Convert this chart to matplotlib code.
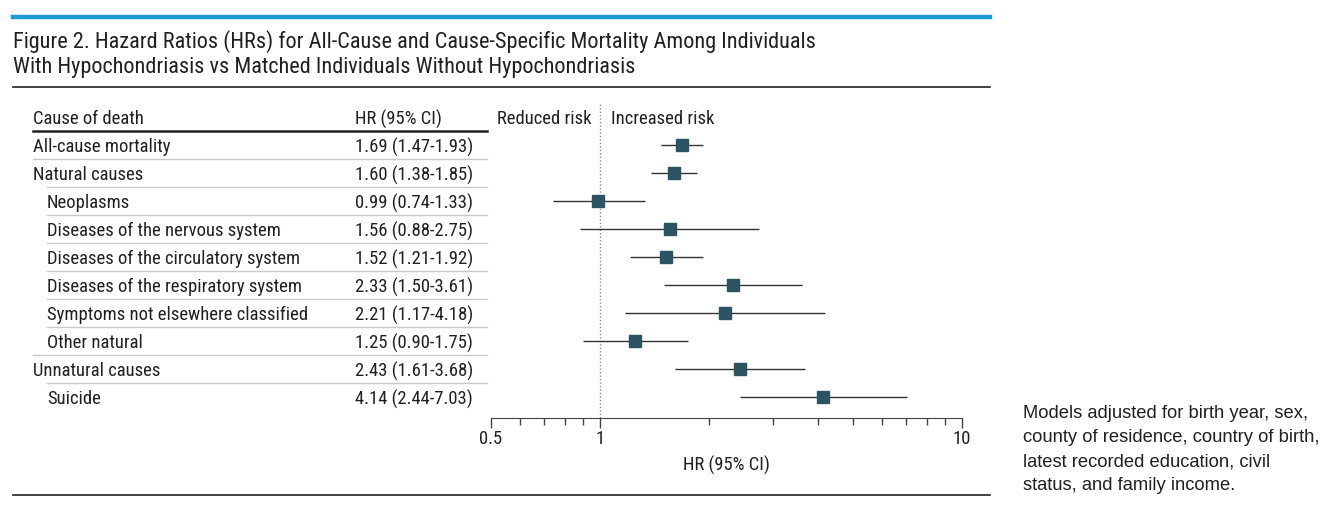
import matplotlib
matplotlib.use('Agg')
import matplotlib.pyplot as plt
import matplotlib.ticker as mticker
from matplotlib.lines import Line2D
from matplotlib.transforms import blended_transform_factory

plt.rcParams['font.family'] = ['Roboto Condensed', 'DejaVu Sans']
plt.rcParams['font.stretch'] = 'condensed'

# data
causes = ['All-cause mortality', 'Natural causes', 'Neoplasms',
          'Diseases of the nervous system', 'Diseases of the circulatory system',
          'Diseases of the respiratory system', 'Symptoms not elsewhere classified',
          'Other natural', 'Unnatural causes', 'Suicide']
indent = [0, 0, 1, 1, 1, 1, 1, 1, 0, 1]
hr = [1.69, 1.60, 0.99, 1.56, 1.52, 2.33, 2.21, 1.25, 2.43, 4.14]
lo = [1.47, 1.38, 0.74, 0.88, 1.21, 1.50, 1.17, 0.90, 1.61, 2.44]
hi = [1.93, 1.85, 1.33, 2.75, 1.92, 3.61, 4.18, 1.75, 3.68, 7.03]

W, H = 1342, 513
fig = plt.figure(figsize=(W / 100, H / 100), dpi=100)


def fx(px):
    return px / W


def fy(py):
    return 1 - py / H


txt = '#231f20'
body = 13.4
va = 'center_baseline'

# forest plot
ax = fig.add_axes([fx(491), fy(418), fx(962) - fx(491), fy(103) - fy(418)])
rows = list(range(len(causes)))
ax.axvline(1, color='#8c8c8c', lw=1, ls=(0, (1, 1.5)), zorder=1)
ax.hlines(rows, lo, hi, color='#333333', lw=1, zorder=2)
ax.plot(hr, rows, 's', color='#2b5361', ms=8.3, mec='#2b5361', zorder=3)
ax.set_xscale('log')
ax.set_xlim(0.5, 10)
ax.set_ylim(9.75, -1.5)
ax.set_xticks([0.5, 1, 10])
ax.set_xticklabels(['0.5', '1', '10'])
ax.xaxis.set_minor_locator(mticker.FixedLocator([0.6, 0.7, 0.8, 0.9, 2, 3, 4, 5, 6, 7, 8, 9]))
ax.xaxis.set_minor_formatter(mticker.NullFormatter())
ax.tick_params(axis='x', which='major', length=7, width=1, color='#444444',
               labelsize=body, labelcolor=txt, pad=2)
ax.tick_params(axis='x', which='minor', length=5, width=1, color='#444444')
ax.set_yticks([])
for s in ['top', 'left', 'right']:
    ax.spines[s].set_visible(False)
ax.spines['bottom'].set_color('#444444')
ax.set_xlabel('HR (95% CI)', fontsize=body, color=txt, labelpad=5)
ax.patch.set_alpha(0)

ax.text(0.945, -1, 'Reduced risk', ha='right', va=va, fontsize=body, color=txt)
ax.text(1.07, -1, 'Increased risk', ha='left', va=va, fontsize=body, color=txt)

# table
tr = blended_transform_factory(fig.transFigure, ax.transData)
ax.text(fx(33), -1, 'Cause of death', transform=tr, ha='left', va=va, fontsize=body, color=txt)
ax.text(fx(355), -1, 'HR (95% CI)', transform=tr, ha='left', va=va, fontsize=body, color=txt)
ax.plot([fx(33), fx(487)], [-0.5, -0.5], transform=tr, color='#231f20', lw=1.8, clip_on=False)
for i, name in enumerate(causes):
    x0 = 47 if indent[i] else 33
    ax.text(fx(x0), i, name, transform=tr, ha='left', va=va, fontsize=body, color=txt)
    ax.text(fx(355), i, '%.2f (%.2f-%.2f)' % (hr[i], lo[i], hi[i]), transform=tr,
            ha='left', va=va, fontsize=body, color=txt)
    if i < len(causes) - 1:
        x1 = 47 if indent[i + 1] else 33
        ax.plot([fx(x1), fx(487)], [i + 0.5, i + 0.5], transform=tr,
                color='#c8c8c8', lw=1, clip_on=False)

# title and rules
fig.add_artist(Line2D([fx(13), fx(990)], [fy(17), fy(17)], color='#1e9ad6', lw=3.2))
fig.text(fx(13), fy(38.5), 'Figure 2. Hazard Ratios (HRs) for All-Cause and Cause-Specific Mortality Among Individuals',
         ha='left', va=va, fontsize=16, color=txt)
fig.text(fx(13), fy(65.5), 'With Hypochondriasis vs Matched Individuals Without Hypochondriasis',
         ha='left', va=va, fontsize=16, color=txt)
fig.add_artist(Line2D([fx(13), fx(990)], [fy(87), fy(87)], color='#231f20', lw=1.2))
fig.add_artist(Line2D([fx(13), fx(990)], [fy(495), fy(495)], color='#231f20', lw=1.2))

fig.text(fx(1023), fy(449.5),
         'Models adjusted for birth year, sex,\ncounty of residence, country of birth,\n'
         'latest recorded education, civil\nstatus, and family income.',
         ha='left', va='center', fontsize=13.2, linespacing=1.54, color=txt,
         family=['Liberation Sans', 'DejaVu Sans'], stretch='normal')

fig.savefig('out.png', dpi=100)
